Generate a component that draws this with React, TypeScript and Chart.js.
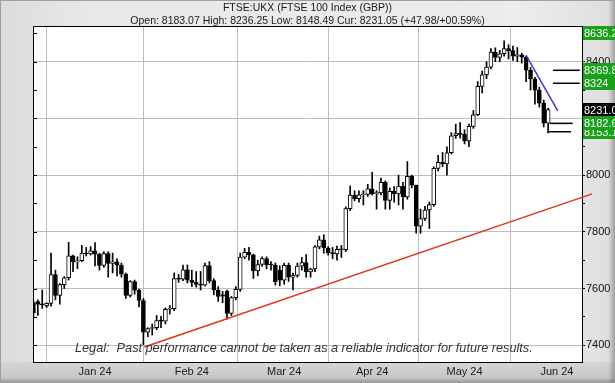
import React, { useEffect, useRef } from 'react';
import { Chart, registerables } from 'chart.js';

Chart.register(...registerables);

// Daily candles, 8 Dec 2023 .. 30 May 2024 (index = trading day)
const opens = [
  7551, 7554, 7544, 7540, 7548, 7649, 7576, 7614, 7638, 7715, 7694, 7698, 7725, 7722,
  7733, 7721, 7682, 7723, 7689, 7694, 7683, 7651, 7576, 7625, 7594, 7558, 7446, 7459, 7462, 7487, 7485, 7527, 7529, 7635, 7633, 7666,
  7630, 7622, 7615, 7612, 7681, 7628, 7595, 7578, 7590, 7512, 7568, 7597, 7711, 7728, 7719, 7662, 7685, 7706, 7684, 7683, 7665,
  7630, 7682, 7640, 7646, 7679, 7692, 7659, 7669, 7747, 7772, 7743, 7727, 7722, 7738, 7737, 7882, 7930, 7917, 7931, 7932,
  7952, 7935, 7937, 7975, 7911, 7943, 7934, 7961, 7923, 7996, 7965, 7820, 7847, 7877, 7896, 8024, 8045, 8040, 8079, 8139, 8147,
  8144, 8121, 8172, 8213, 8313, 8354, 8381, 8434, 8415, 8428, 8446, 8439, 8420, 8424, 8416, 8370, 8339, 8300, 8254, 8183.07,
];
const highs = [
  7556, 7560, 7595, 7550, 7725, 7665, 7618, 7642, 7763, 7718, 7712, 7752, 7745, 7748,
  7762, 7725, 7730, 7730, 7725, 7705, 7690, 7655, 7628, 7630, 7598, 7565, 7462, 7475, 7505, 7502, 7532, 7540, 7655, 7650, 7683, 7683,
  7665, 7660, 7660, 7690, 7695, 7635, 7607, 7590, 7595, 7572, 7607, 7725, 7742, 7745, 7722, 7700, 7712, 7712, 7695, 7690, 7680,
  7690, 7690, 7655, 7690, 7710, 7720, 7672, 7752, 7785, 7790, 7748, 7745, 7750, 7752, 7888, 7962, 7945, 7945, 7945, 7968,
  8010, 7945, 7990, 7980, 7955, 7960, 8000, 7975, 8048, 8000, 7965, 7880, 7890, 7905, 8030, 8070, 8080, 8100, 8150, 8180, 8185,
  8160, 8180, 8228, 8330, 8367, 8400, 8446, 8449, 8440, 8474, 8460, 8455, 8450, 8430, 8420, 8380, 8345, 8310, 8265, 8236.25,
];
const lows = [
  7496, 7505, 7530, 7533, 7538, 7560, 7545, 7600, 7630, 7660, 7670, 7695, 7715, 7718,
  7680, 7665, 7675, 7640, 7655, 7645, 7640, 7565, 7570, 7580, 7535, 7402, 7430, 7436, 7455, 7462, 7475, 7510, 7522, 7622, 7628, 7620,
  7607, 7605, 7595, 7608, 7620, 7578, 7555, 7550, 7492, 7505, 7560, 7590, 7705, 7700, 7636, 7645, 7678, 7670, 7665, 7612, 7610,
  7615, 7625, 7595, 7640, 7665, 7640, 7640, 7660, 7740, 7725, 7718, 7705, 7700, 7710, 7730, 7875, 7910, 7905, 7895, 7925,
  7930, 7880, 7930, 7880, 7880, 7905, 7895, 7880, 7915, 7955, 7795, 7795, 7840, 7812, 7890, 8015, 8030, 8000, 8075, 8130, 8130,
  8110, 8100, 8165, 8210, 8290, 8340, 8375, 8400, 8400, 8420, 8410, 8405, 8400, 8395, 8330, 8300, 8250, 8240, 8170, 8148.49,
];
const closes = [
  7515, 7544, 7543, 7548, 7649, 7576, 7614, 7638, 7715, 7694, 7698, 7725, 7722, 7733,
  7721, 7682, 7723, 7689, 7694, 7683, 7651, 7576, 7625, 7594, 7558, 7446, 7459, 7462, 7487, 7485, 7527, 7529, 7635, 7633, 7666, 7630,
  7622, 7615, 7612, 7681, 7628, 7595, 7572, 7573, 7512, 7568, 7597, 7711, 7728, 7719, 7662, 7685, 7706, 7684, 7683, 7624, 7630,
  7682, 7640, 7646, 7679, 7692, 7659, 7669, 7747, 7772, 7743, 7727, 7722, 7738, 7737, 7882, 7930, 7917, 7931, 7932, 7952,
  7935, 7937, 7975, 7911, 7943, 7934, 7961, 7923, 7996, 7965, 7820, 7847, 7877, 7896, 8024, 8045, 8040, 8079, 8139, 8147, 8144,
  8121, 8172, 8213, 8313, 8354, 8381, 8434, 8415, 8428, 8446, 8439, 8420, 8424, 8416, 8370, 8339, 8300, 8254, 8183, 8231.05,
];
const prevClose = 8183.07;

// month gridlines (trading-day index of first session) and labels
const monthTickIdx = [14, 36, 57, 77, 98, 119];
const monthLabels = ['Jan 24', 'Feb 24', 'Mar 24', 'Apr 24', 'May 24', 'Jun 24'];

// y ticks
const yTicks = [7400, 7500, 7600, 7700, 7800, 7900, 8000, 8100, 8200, 8300, 8400, 8500];

// drawn trend lines (x in trading-day index)
const supportX = [25.2, 127];
const supportY = [7394, 7934];
const resistX = [112, 119.2];
const resistY = [8422, 8227];

// target level lines
const levelValues = [8369.8, 8324, 8182.6, 8153.1];
const levelFrom = [118.1, 118.1, 117.4, 116.9];
const levelTo = [124.2, 124.2, 122.6, 122.2];

// right-hand price boxes
const greenBoxValues = [8636.2, 8369.8, 8324, 8153.1, 8182.6];
const greenBoxTexts = ['8636.2', '8369.8', '8324', '8153.1', '8182.6'];

const titleText = 'FTSE:UKX (FTSE 100 Index (GBP))';
const legalText = 'Legal:  Past performance cannot be taken as a reliable indicator for future results.';

const FONT = '"Liberation Sans", Arial, sans-serif';

export default function App() {
  const ref = useRef<HTMLCanvasElement>(null);

  useEffect(() => {
    document.body.style.margin = '0';
    const canvas = ref.current!;
    const n = closes.length;
    const last = n - 1;
    const chg = closes[last] - prevClose;
    const pct = (chg / prevClose) * 100;
    const pctStr = (pct < 10 ? '0' : '') + pct.toFixed(2);
    const subText = `Open: ${opens[last].toFixed(2)} High: ${highs[last].toFixed(2)} Low: ${lows[last].toFixed(2)} Cur: ${closes[last].toFixed(2)} (${chg >= 0 ? '+' : ''}${chg.toFixed(2)}/${chg >= 0 ? '+' : ''}${pctStr}%)`;
    const curText = (Math.floor(closes[last] * 10) / 10).toFixed(1);

    const isUp = (i: number) => closes[i] >= opens[i];

    const wicks = closes.map((_, i) => ({ x: i, y: [lows[i], highs[i]] }));
    const bodies = closes.map((_, i) => ({ x: i, y: [opens[i], closes[i]] }));

    const lineDs = (xs: number[], ys: number[], color: string, width: number, clip: any) => ({
      type: 'line' as const,
      data: xs.map((x, i) => ({ x, y: ys[i] })),
      borderColor: color,
      borderWidth: width,
      pointRadius: 0,
      fill: false,
      clip,
      order: 0,
    });

    const framePlugin = {
      id: 'frame',
      beforeDraw(chart: any) {
        const { ctx, width, height, chartArea: a } = chart;
        ctx.save();
        const g = ctx.createLinearGradient(0, 0, width, 0);
        g.addColorStop(0, '#dcdcdc');
        g.addColorStop(0.15, '#e8e8e8');
        g.addColorStop(0.85, '#ececec');
        g.addColorStop(1, '#dedede');
        ctx.fillStyle = g;
        ctx.fillRect(0, 0, width, height);
        const gb = ctx.createLinearGradient(0, a.bottom, 0, height);
        gb.addColorStop(0, '#d6d6d6');
        gb.addColorStop(1, '#c2c2c2');
        ctx.fillStyle = gb;
        ctx.fillRect(0, a.bottom, width, height - a.bottom);
        const gr = ctx.createLinearGradient(width - 7, 0, width, 0);
        gr.addColorStop(0, 'rgba(0,0,0,0)');
        gr.addColorStop(1, 'rgba(0,0,0,0.28)');
        ctx.fillStyle = gr;
        ctx.fillRect(width - 7, 0, 7, height);
        const gbb = ctx.createLinearGradient(0, height - 5, 0, height);
        gbb.addColorStop(0, 'rgba(0,0,0,0)');
        gbb.addColorStop(1, 'rgba(0,0,0,0.25)');
        ctx.fillStyle = gbb;
        ctx.fillRect(0, height - 5, width, 5);
        ctx.strokeStyle = '#a0a0a0';
        ctx.lineWidth = 1;
        ctx.strokeRect(0.5, 0.5, width - 1, height - 1);
        ctx.fillStyle = '#ffffff';
        ctx.fillRect(a.left, a.top, a.right - a.left, a.bottom - a.top);
        ctx.restore();
      },
      beforeDatasetsDraw(chart: any) {
        const { ctx, chartArea: a, scales } = chart;
        ctx.save();
        ctx.strokeStyle = '#000';
        ctx.lineWidth = 1;
        ctx.beginPath();
        ctx.moveTo(a.left + 0.5, a.bottom);
        ctx.lineTo(a.left + 0.5, a.top + 0.5);
        ctx.lineTo(a.right, a.top + 0.5);
        yTicks.forEach((v) => {
          const y = Math.round(scales.y.getPixelForValue(v)) + 0.5;
          ctx.moveTo(a.left, y);
          ctx.lineTo(a.left + 4, y);
        });
        ctx.stroke();
        ctx.restore();
      },
      afterDatasetsDraw(chart: any) {
        const { ctx, chartArea: a } = chart;
        ctx.save();
        ctx.font = `italic 12.7px ${FONT}`;
        ctx.fillStyle = '#333333';
        ctx.textBaseline = 'alphabetic';
        ctx.textAlign = 'left';
        ctx.fillText(legalText, a.left + 42, a.bottom - 10);
        ctx.restore();
      },
      afterDraw(chart: any) {
        const { ctx, width, chartArea: a, scales } = chart;
        ctx.save();
        // titles
        ctx.fillStyle = '#1a1a1a';
        ctx.font = `10.5px ${FONT}`;
        ctx.textAlign = 'center';
        ctx.textBaseline = 'middle';
        ctx.fillText(titleText, width / 2, 8);
        ctx.fillText(subText, width / 2, 21);
        // price boxes
        const box = (v: number, txt: string, bg: string) => {
          let y = scales.y.getPixelForValue(v);
          y = Math.max(a.top + 7, Math.min(a.bottom - 7, y));
          ctx.fillStyle = bg;
          ctx.fillRect(a.right + 1, Math.round(y - 7), width - a.right, 14);
          ctx.fillStyle = '#ffffff';
          ctx.font = `11px ${FONT}`;
          ctx.textAlign = 'left';
          ctx.textBaseline = 'middle';
          ctx.fillText(txt, a.right + 2, Math.round(y) + 0.5);
        };
        box(greenBoxValues[0], greenBoxTexts[0], '#1aa01a');
        box(greenBoxValues[1], greenBoxTexts[1], '#1aa01a');
        box(greenBoxValues[2], greenBoxTexts[2], '#1aa01a');
        box(closes[last], curText, '#000000');
        box(greenBoxValues[3], greenBoxTexts[3], '#1aa01a');
        box(greenBoxValues[4], greenBoxTexts[4], '#1aa01a');
        ctx.restore();
      },
    };

    const chart = new Chart(canvas, {
      type: 'bar',
      data: {
        datasets: [
          {
            type: 'bar',
            data: wicks as any,
            backgroundColor: '#000',
            borderWidth: 0,
            barThickness: 1,
            grouped: false,
            order: 3,
          } as any,
          {
            type: 'bar',
            data: bodies as any,
            backgroundColor: (c: any) => (isUp(c.dataIndex) ? '#ffffff' : '#000000'),
            borderColor: '#000',
            borderWidth: 1,
            borderSkipped: false,
            barThickness: 4,
            minBarLength: 1,
            grouped: false,
            order: 2,
          } as any,
          lineDs(supportX, supportY, '#e0321e', 1.5, false),
          lineDs(resistX, resistY, '#3a3acc', 1.5, 0),
          ...levelValues.map((v, i) => lineDs([levelFrom[i], levelTo[i]], [v, v], '#000000', 1.5, 0)),
        ],
      },
      plugins: [framePlugin],
      options: {
        responsive: false,
        animation: false,
        events: [],
        layout: { padding: { left: 33, top: 26, right: 0, bottom: 0 } },
        plugins: { legend: { display: false }, tooltip: { enabled: false }, title: { display: false } },
        scales: {
          x: {
            type: 'linear',
            min: -0.1,
            max: 124.7,
            offset: false,
            afterBuildTicks: (s: any) => {
              s.ticks = monthTickIdx.map((v) => ({ value: v }));
            },
            afterFit: (s: any) => {
              s.height = 21;
            },
            ticks: {
              autoSkip: false,
              maxRotation: 0,
              padding: 3,
              color: '#1a1a1a',
              font: { family: FONT, size: 11 },
              callback: (_v: any, i: number) => monthLabels[i],
            },
            grid: { color: '#bdbdbd', lineWidth: 1, drawTicks: false },
            border: { display: true, color: '#000', width: 1 },
          },
          y: {
            type: 'linear',
            position: 'right',
            min: 7341,
            max: 8526,
            afterBuildTicks: (s: any) => {
              s.ticks = yTicks.map((v) => ({ value: v }));
            },
            afterFit: (s: any) => {
              s.width = 33;
            },
            ticks: {
              padding: 1,
              color: '#111',
              font: { family: FONT, size: 11 },
              callback: (v: any) => (Number(v) % 200 === 0 ? String(v) : ''),
            },
            grid: {
              color: (c: any) => (c.tick && c.tick.value % 200 === 0 ? '#bdbdbd' : 'rgba(0,0,0,0)'),
              tickColor: '#000',
              tickLength: 3,
              lineWidth: 1,
            },
            border: { display: true, color: '#000', width: 1 },
          },
        },
      } as any,
    });
    return () => chart.destroy();
  }, []);

  return (
    <div style={{ position: 'fixed', left: 0, top: 0, width: 615, height: 383 }}>
      <canvas ref={ref} width={615} height={383} style={{ display: 'block' }} />
    </div>
  );
}
